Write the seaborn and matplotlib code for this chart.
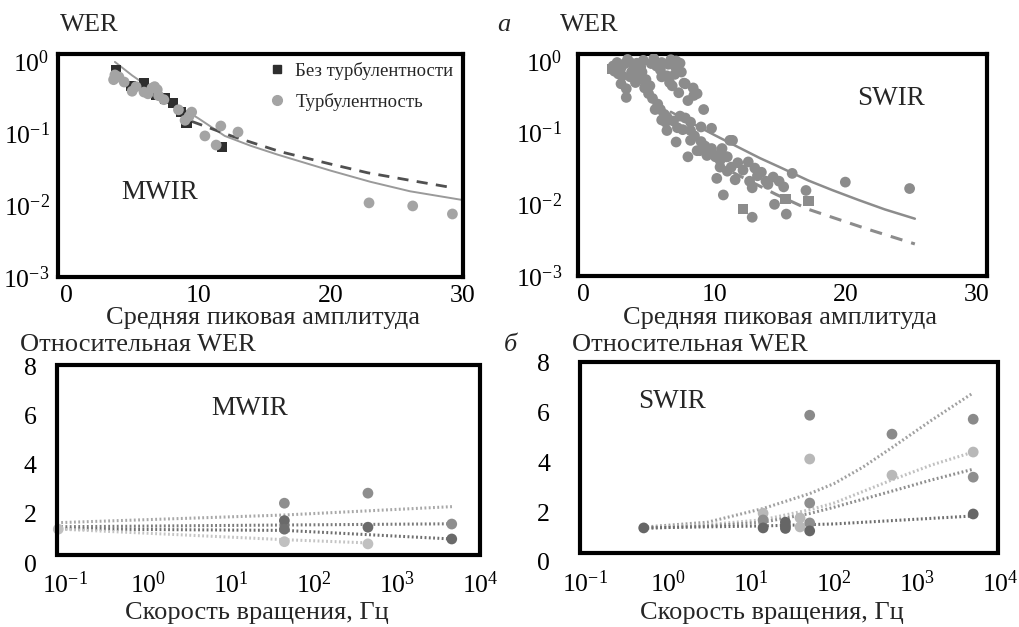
import numpy as np
import pandas as pd
import matplotlib
matplotlib.use("Agg")
import matplotlib.pyplot as plt
from matplotlib.lines import Line2D
from matplotlib.patches import Rectangle
from matplotlib.ticker import LogFormatterSciNotation, NullLocator, FixedLocator
import seaborn as sns

# ---------------- data ----------------
# (a) MWIR: WER vs mean peak amplitude
mwir_noturb_x = [3.8, 4.9, 5.9, 6.8, 7.5, 8.1, 8.7, 9.1, 11.8]
mwir_noturb_y = [0.75, 0.45, 0.49, 0.34, 0.30, 0.26, 0.195, 0.14, 0.064]
mwir_turb_x = [3.7, 3.6, 4.0, 4.4, 5.0, 5.3, 5.9, 6.2, 6.5, 6.7, 6.9, 7.0, 7.4, 8.5, 9.0,
               9.3, 9.5, 10.5, 11.35, 11.7, 13.0, 22.9, 26.2, 29.2]
mwir_turb_y = [0.64, 0.55, 0.60, 0.51, 0.38, 0.44, 0.37, 0.35, 0.42, 0.44, 0.40, 0.33, 0.29, 0.21, 0.15,
               0.17, 0.195, 0.091, 0.068, 0.125, 0.103, 0.0107, 0.0097, 0.0075]
mwir_fit_turb_x = [3.7, 5, 6, 7, 8, 10, 12, 14, 16, 20, 23, 26, 30]
mwir_fit_turb_y = [0.97, 0.63, 0.47, 0.355, 0.27, 0.16, 0.091, 0.066, 0.05, 0.030, 0.021, 0.0155, 0.0117]
mwir_fit_noturb_x = [9.5, 12.5, 16.2, 20, 22.8, 26, 29.2]
mwir_fit_noturb_y = [0.145, 0.091, 0.055, 0.037, 0.028, 0.022, 0.0174]

# (a) SWIR
swir_turb_x = [2.3, 2.4, 2.7, 2.9, 3.3, 3.3, 2.9, 3.2, 3.6, 3.9, 4.1, 3.7, 4.3, 4.7, 5.0, 5.3, 5.7,
               5.9, 6.2, 6.4, 5.5, 4.5, 3.6, 4.0, 6.0, 6.3, 4.8, 2.6, 4.4, 5.1,
               5.2, 5.6, 6.0, 6.5, 7.0, 7.2, 5.9, 6.4, 6.6, 7.0, 7.5, 6.8, 6.0, 6.9, 7.4,
               7.8, 7.3, 8.4, 8.7, 8.0, 9.2, 7.2, 6.4, 7.6, 8.2, 8.2, 7.1, 9.8, 8.7, 9.5, 8.0,
               10.2, 11.0, 11.4, 10.6, 7.7, 8.45, 8.5, 9.0, 9.3, 9.8, 10.5, 11.8, 12.2, 11.0,
               13.6, 14.5, 9.0, 8.2, 7.8, 7.4, 6.9,
               11.2, 8.9, 9.45, 10.1, 10.45, 10.9, 10.45, 11.3, 10.2, 11.6, 10.7, 12.6, 13.1,
               12.7, 13.3, 12.9, 13.95, 14.1, 14.95, 15.3, 15.95, 17.0, 14.6, 15.5, 12.9, 20.0, 24.9,
               3.4, 4.6, 5.4, 6.7, 7.1, 3.0, 4.2]
swir_turb_y = [0.85, 0.72, 0.66, 0.48, 0.41, 0.31, 0.80, 0.92, 0.95, 0.86, 0.93, 0.70, 0.55, 0.42, 0.35, 0.30, 0.25,
               0.21, 0.18, 0.165, 0.21, 0.70, 0.60, 0.50, 0.15, 0.14, 0.55, 0.95, 0.83, 0.45,
               0.92, 0.85, 0.95, 0.90, 0.85, 0.78, 0.75, 0.62, 0.50, 0.65, 0.70, 0.45, 0.60, 0.97, 0.93,
               0.48, 0.36, 0.42, 0.35, 0.28, 0.21, 0.117, 0.107, 0.11, 0.107, 0.078, 0.074, 0.115, 0.056, 0.056, 0.046,
               0.046, 0.046, 0.078, 0.060, 0.49, 0.33, 0.09, 0.075, 0.065, 0.06, 0.052, 0.038, 0.030, 0.029,
               0.028, 0.024, 0.12, 0.14, 0.16, 0.17, 0.145,
               0.078, 0.056, 0.048, 0.046, 0.041, 0.046, 0.033, 0.033, 0.023, 0.022, 0.0135, 0.039, 0.032,
               0.021, 0.025, 0.017, 0.021, 0.019, 0.021, 0.0175, 0.027, 0.0156, 0.010, 0.0073, 0.0066, 0.0204, 0.0166,
               1.05, 1.02, 1.08, 1.04, 1.0, 0.62, 0.66]
swir_noturb_x = [12.2, 15.45, 17.2, 2.2]
swir_noturb_y = [0.0087, 0.0118, 0.011, 0.78]
swir_fit_turb_x = [6.7, 8, 9, 10, 11, 12.2, 13.5, 15, 17.2, 19, 21, 23, 25.3]
swir_fit_turb_y = [0.195, 0.145, 0.116, 0.093, 0.075, 0.058, 0.044, 0.033, 0.0214, 0.0158, 0.0115,
                   0.0085, 0.0063]
swir_fit_noturb_x = [11.4, 14.7, 17.2, 21.7, 25.3]
swir_fit_noturb_y = [0.028, 0.0138, 0.0085, 0.0045, 0.0028]

# (б) MWIR relative WER vs rotation speed
bl_groups = ["g1", "g2", "g3", "g4"]
bl_pts_x = {"g1": [44, 447, 4570], "g2": [44, 447, 4570], "g3": [44], "g4": [0.083, 44, 447]}
bl_pts_y = {"g1": [2.44, 2.85, 1.59], "g2": [1.73, 1.46, 0.98], "g3": [1.38], "g4": [1.38, 0.87, 0.78]}
bl_fit_x = {"g1": [0.09, 45, 4600], "g2": [0.09, 45, 4600], "g3": [0.09, 45, 4600], "g4": [0.09, 45, 450]}
bl_fit_y = {"g1": [1.65, 1.96, 2.30], "g2": [1.48, 1.55, 1.60], "g3": [1.39, 1.33, 0.98], "g4": [1.38, 0.95, 0.82]}

# (б) SWIR
br_groups = ["s1", "s2", "s3", "s4"]
br_pts_x = {"s1": [51, 500, 4760], "s2": [14, 39, 39, 51, 500, 4760],
            "s3": [14, 51, 51, 4760], "s4": [0.51, 14, 26, 26, 26, 51, 4760]}
br_pts_y = {"s1": [5.9, 5.14, 5.74], "s2": [1.96, 1.77, 1.41, 4.14, 3.49, 4.42],
            "s3": [1.69, 2.37, 1.57, 3.41], "s4": [1.37, 1.37, 1.6, 1.45, 1.35, 1.25, 1.93]}
br_fit_x = {"s1": [0.5, 3, 14, 51, 100, 220, 500, 1500, 4760],
            "s2": [0.5, 3, 14, 51, 100, 500, 1500, 4760],
            "s3": [0.5, 3, 14, 51, 100, 500, 1500, 4760],
            "s4": [0.5, 14, 100, 4760]}
br_fit_y = {"s1": [1.40, 1.6, 2.15, 2.75, 3.15, 3.8, 4.6, 5.7, 6.8],
            "s2": [1.37, 1.5, 1.70, 2.1, 2.37, 3.3, 3.9, 4.42],
            "s3": [1.35, 1.45, 1.6, 1.95, 2.2, 2.85, 3.3, 3.73],
            "s4": [1.37, 1.45, 1.53, 1.85]}

log_ticks = [1e-3, 1e-2, 1e-1, 1e0]
lin_ticks = [0, 10, 20, 30]
rel_ticks = [0, 2, 4, 6, 8]
freq_ticks = [1e-1, 1e0, 1e1, 1e2, 1e3, 1e4]

# ---------------- style ----------------
sns.set_theme(style="white")
plt.rcParams["font.family"] = ["Liberation Serif", "DejaVu Serif"]
plt.rcParams["mathtext.fontset"] = "stix"

W, H = 1019, 627
fig = plt.figure(figsize=(W / 100, H / 100), dpi=100)

LABEL_FS = 19
TICK_FS = 18.5
PANEL_FS = 19.5


def ax_px(l, t, r, b):
    return fig.add_axes([l / W, (H - b) / H, (r - l) / W, (b - t) / H])


def ftext(x, y, s, **kw):
    kw.setdefault("fontsize", LABEL_FS)
    kw.setdefault("va", "center")
    fig.text(x / W, 1 - y / H, s, **kw)


def style_ax(ax, ypad, xpad=6, frame=None):
    ax.set_facecolor("white")
    ax.tick_params(axis="both", length=0, labelsize=TICK_FS, colors="black")
    ax.tick_params(axis="y", pad=ypad)
    ax.tick_params(axis="x", pad=xpad)
    ax.set_xlabel("")
    ax.set_ylabel("")
    ax.grid(False)
    if frame is None:
        for sp in ax.spines.values():
            sp.set_visible(True)
            sp.set_linewidth(3)
            sp.set_color("black")
    else:
        for sp in ax.spines.values():
            sp.set_visible(False)
        x0, y0, x1, y1 = frame
        ax.add_patch(Rectangle((x0, y0), x1 - x0, y1 - y0, transform=ax.transAxes,
                               fill=False, lw=3, ec="black", clip_on=False, zorder=10))


def log_y(ax):
    ax.set_yscale("log")
    ax.yaxis.set_major_locator(FixedLocator(log_ticks))
    ax.yaxis.set_major_formatter(LogFormatterSciNotation())
    ax.yaxis.set_minor_locator(NullLocator())


def log_x(ax):
    ax.set_xscale("log")
    ax.xaxis.set_major_locator(FixedLocator(freq_ticks))
    ax.xaxis.set_major_formatter(LogFormatterSciNotation())
    ax.xaxis.set_minor_locator(NullLocator())


# ---------- top-left: MWIR ----------
ax1 = ax_px(58, 54, 463, 277)
sns.lineplot(x=mwir_fit_turb_x, y=mwir_fit_turb_y, ax=ax1, color="#9a9a9a", lw=1.4,
             estimator=None, sort=False)
sns.lineplot(x=mwir_fit_noturb_x, y=mwir_fit_noturb_y, ax=ax1, color="#505050", lw=2.0,
             estimator=None, sort=False)
ax1.lines[-1].set_dashes([4, 3])
sns.scatterplot(x=mwir_noturb_x, y=mwir_noturb_y, ax=ax1, marker="s", s=55, color="#2e2e2e",
                edgecolor="none", zorder=3)
sns.scatterplot(x=mwir_turb_x, y=mwir_turb_y, ax=ax1, marker="o", s=60, color="#a4a4a4",
                edgecolor="none", zorder=4)
log_y(ax1)
ax1.set_ylim(1e-3, 1.25)
ax1.set_xlim(-0.6, 30)
ax1.xaxis.set_major_locator(FixedLocator(lin_ticks))
style_ax(ax1, ypad=6)
handles = [Line2D([], [], marker="s", ls="none", color="#2e2e2e", markersize=6),
           Line2D([], [], marker="o", ls="none", color="#a4a4a4", markersize=7)]
ax1.legend(handles, ["Без турбулентности", "Турбулентность"], loc="upper left",
           bbox_to_anchor=(0.523, 0.965), frameon=False, fontsize=13.5, borderpad=0,
           borderaxespad=0, handlelength=0.8, handletextpad=0.55, labelspacing=0.7)
ax1.text(0.25, 0.38, "MWIR", transform=ax1.transAxes, fontsize=PANEL_FS, ha="center", va="center")

# ---------- top-right: SWIR ----------
ax2 = ax_px(578, 54, 987, 276)
sns.scatterplot(x=swir_turb_x, y=swir_turb_y, ax=ax2, marker="o", s=60, color="#8c8c8c",
                edgecolor="none", zorder=3)
sns.scatterplot(x=swir_noturb_x, y=swir_noturb_y, ax=ax2, marker="s", s=55, color="#8c8c8c",
                edgecolor="none", zorder=3)
sns.lineplot(x=swir_fit_turb_x, y=swir_fit_turb_y, ax=ax2, color="#8c8c8c", lw=1.8,
             estimator=None, sort=False)
sns.lineplot(x=swir_fit_noturb_x, y=swir_fit_noturb_y, ax=ax2, color="#8c8c8c", lw=2.2,
             estimator=None, sort=False)
ax2.lines[-1].set_dashes([4, 3])
log_y(ax2)
ax2.set_ylim(1e-3, 1.25)
ax2.set_xlim(-0.38, 30.8)
ax2.xaxis.set_major_locator(FixedLocator(lin_ticks))
style_ax(ax2, ypad=11.5)
ax2.text(0.765, 0.8, "SWIR", transform=ax2.transAxes, fontsize=PANEL_FS, ha="center", va="center")

# ---------- bottom-left: MWIR relative ----------
ax3 = ax_px(57, 365, 480, 563)
bl_line_col = {"g1": "#a8a8a8", "g2": "#7a7a7a", "g3": "#6e6e6e", "g4": "#c4c4c4"}
bl_pt_col = {"g1": "#8e8e8e", "g2": "#6a6a6a", "g3": "#707070", "g4": "#c0c0c0"}
for g in bl_groups:
    sns.lineplot(x=bl_fit_x[g], y=bl_fit_y[g], ax=ax3, color=bl_line_col[g], lw=2.2,
                 estimator=None, sort=False)
    ax3.lines[-1].set_dashes([0.6, 0.8])
for g in bl_groups:
    sns.scatterplot(x=bl_pts_x[g], y=bl_pts_y[g], ax=ax3, s=60, color=bl_pt_col[g],
                    edgecolor="none", zorder=4, clip_on=False)
log_x(ax3)
ax3.set_xlim(10 ** -1.096, 1.001e4)
ax3.set_ylim(0, 8.08)
ax3.yaxis.set_major_locator(FixedLocator(rel_ticks))
style_ax(ax3, ypad=14.5, frame=(0, 0.33 / 8.08, 1, 1))
ax3.text(0.455, 0.78, "MWIR", transform=ax3.transAxes, fontsize=PANEL_FS, ha="center", va="center")

# ---------- bottom-right: SWIR relative ----------
ax4 = ax_px(580, 362, 1000, 562)
br_line_col = {"s1": "#a0a0a0", "s2": "#c0c0c0", "s3": "#8e8e8e", "s4": "#6e6e6e"}
br_pt_col = {"s1": "#8a8a8a", "s2": "#b8b8b8", "s3": "#8e8e8e", "s4": "#666666"}
for g in br_groups:
    sns.lineplot(x=br_fit_x[g], y=br_fit_y[g], ax=ax4, color=br_line_col[g], lw=2.2,
                 estimator=None, sort=False)
    ax4.lines[-1].set_dashes([0.6, 0.8])
for g in br_groups:
    sns.scatterplot(x=br_pts_x[g], y=br_pts_y[g], ax=ax4, s=60, color=br_pt_col[g],
                    edgecolor="none", zorder=4)
log_x(ax4)
ax4.set_xlim(10 ** -1.06, 1.001e4)
ax4.set_ylim(0, 8.04)
ax4.yaxis.set_major_locator(FixedLocator(rel_ticks))
style_ax(ax4, ypad=21.5, frame=(0, 0.36 / 8.04, 0.995, 1))
ax4.text(0.22, 0.8, "SWIR", transform=ax4.transAxes, fontsize=PANEL_FS, ha="center", va="center")

# ---------- figure texts ----------
ftext(60, 25, "WER", ha="left")
ftext(560, 25, "WER", ha="left")
ftext(497, 25, "а", ha="left", style="italic")
ftext(263, 318, "Средняя пиковая амплитуда", ha="center")
ftext(780, 318, "Средняя пиковая амплитуда", ha="center")
ftext(20, 345, "Относительная WER", ha="left")
ftext(572, 345, "Относительная WER", ha="left")
ftext(504, 345, "б", ha="left", style="italic")
ftext(257, 613, "Скорость вращения, Гц", ha="center")
ftext(772, 613, "Скорость вращения, Гц", ha="center")

fig.savefig("out.png", dpi=100, facecolor="white")
